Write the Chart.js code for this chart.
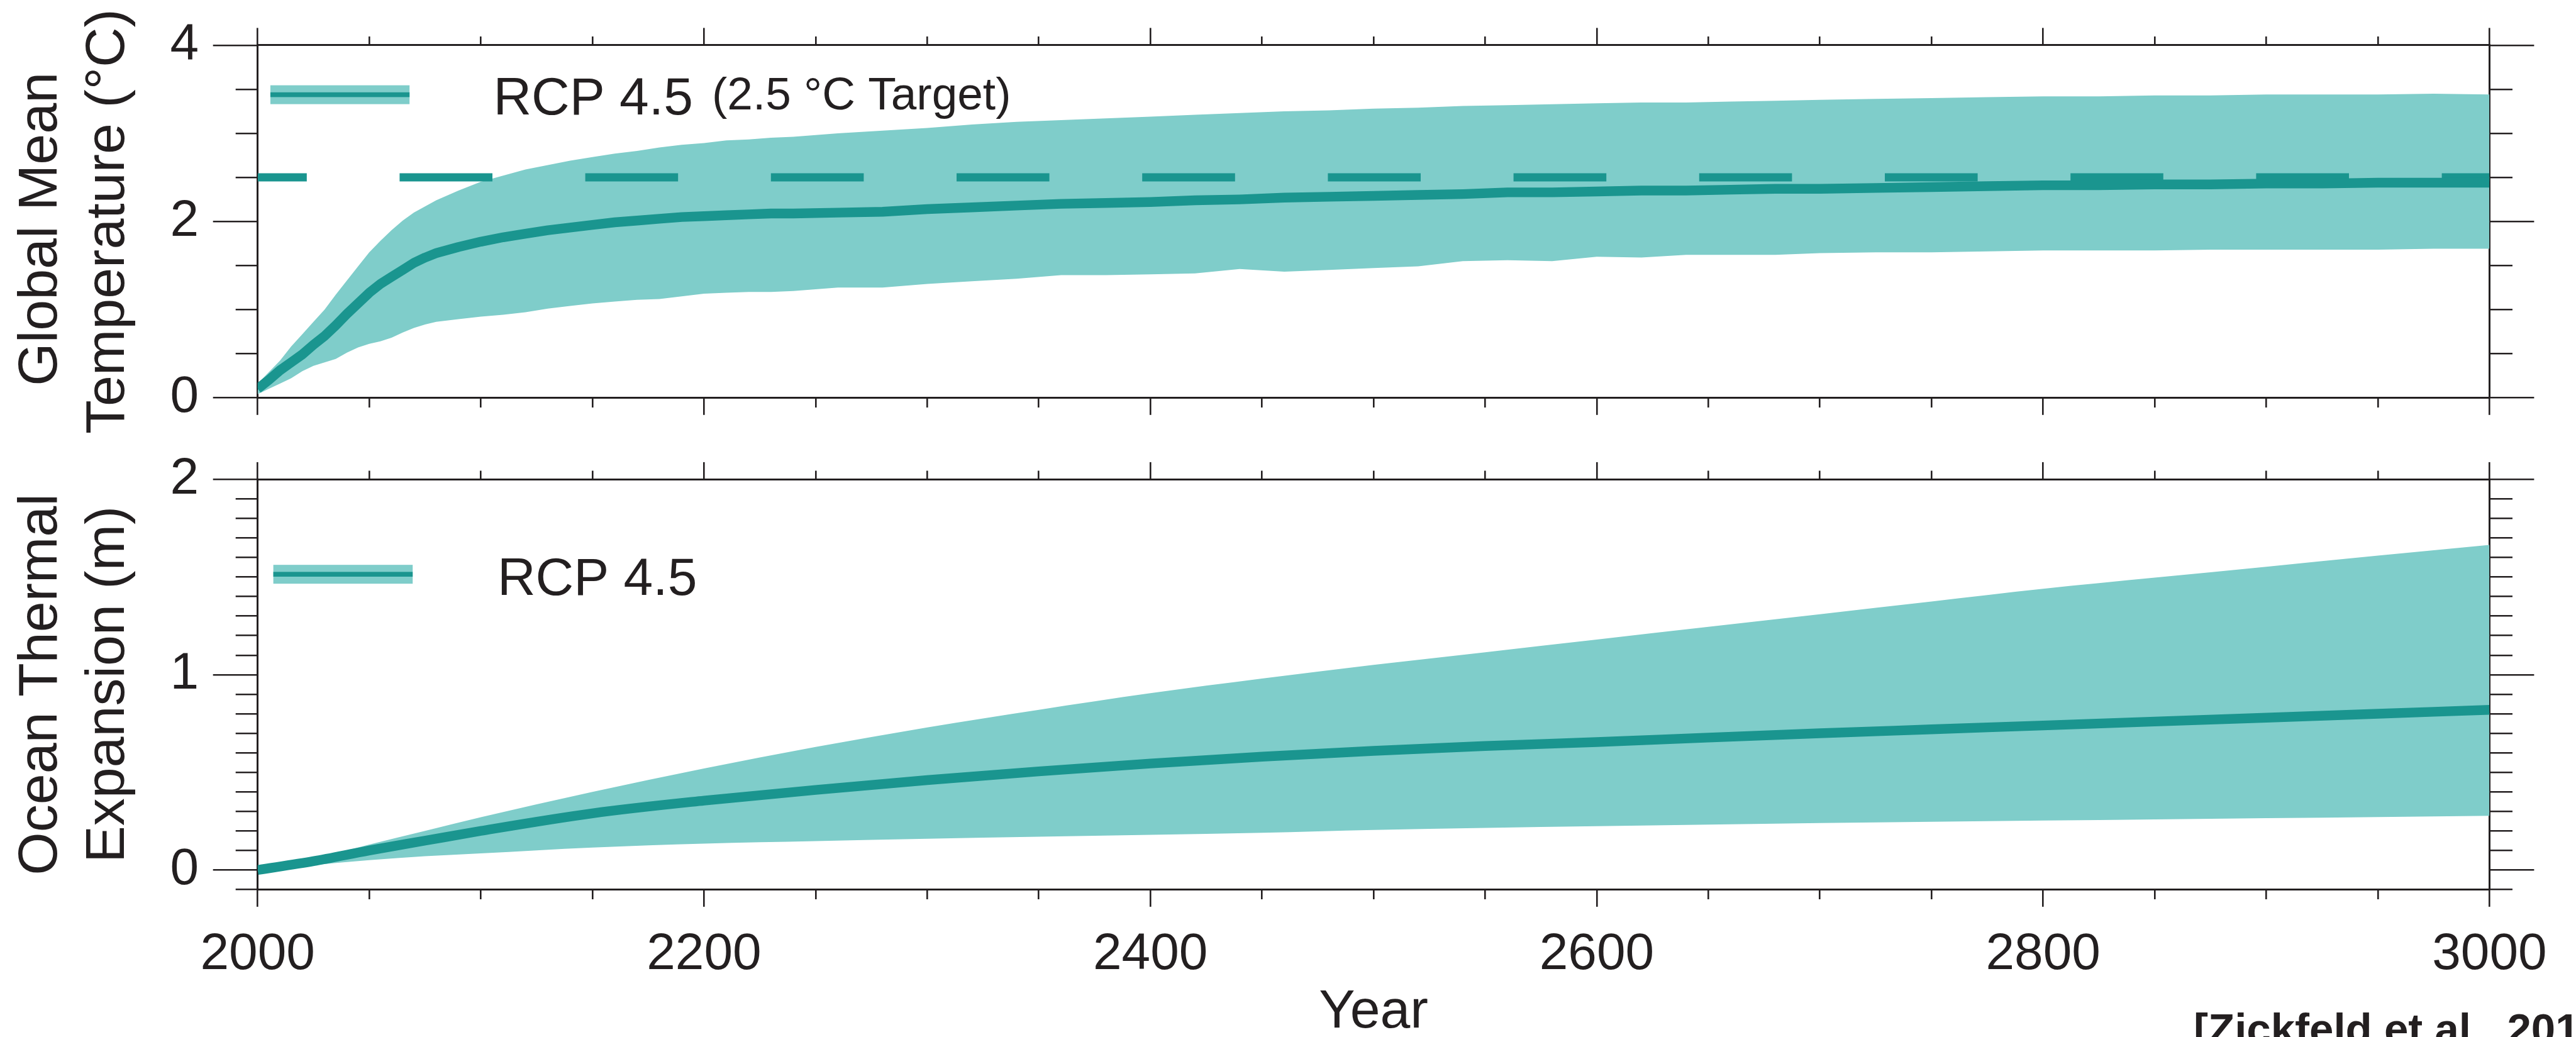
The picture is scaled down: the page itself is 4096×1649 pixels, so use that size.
<!DOCTYPE html>
<html>
<head>
<meta charset="utf-8">
<title>RCP 4.5: Global Mean Temperature and Ocean Thermal Expansion</title>
<script src="https://cdn.jsdelivr.net/npm/chart.js@4.4.1/dist/chart.umd.min.js"></script>
<style>
  html, body { margin: 0; padding: 0; background: #fff; overflow: hidden; }
  canvas { position: absolute; left: 0; top: 0; }
</style>
</head>
<body>
<canvas id="temp" width="4096" height="1649"></canvas>
<canvas id="ocean" width="4096" height="1649"></canvas>
<script>
// Global mean temperature change (°C), RCP 4.5 with the 2.5 °C target
const tempYears = [
  2000, 2005, 2010, 2015, 2020, 2025, 2030, 2035, 2040, 2045, 2050, 2055, 2060, 2065, 2070, 2075, 2080,
  2090, 2100, 2110, 2120, 2130, 2140, 2150, 2160, 2170, 2180, 2190, 2200, 2210, 2220, 2230, 2240,
  2260, 2280, 2300, 2320, 2340, 2360, 2380, 2400, 2420, 2440, 2460, 2480, 2500, 2520, 2540, 2560, 2580, 2600, 2620, 2640, 2660, 2680, 2700,
  2725, 2750, 2775, 2800, 2825, 2850, 2875, 2900, 2925, 2950, 2975, 3000
];
const tempMean = [
  0.10, 0.20, 0.31, 0.40, 0.49, 0.60, 0.70, 0.82, 0.95, 1.07, 1.19, 1.29, 1.37, 1.45, 1.53, 1.59, 1.64,
  1.71, 1.77, 1.82, 1.86, 1.90, 1.93, 1.96, 1.99, 2.01, 2.03, 2.05, 2.06, 2.07, 2.08, 2.09, 2.09,
  2.10, 2.11, 2.14, 2.16, 2.18, 2.20, 2.21, 2.22, 2.24, 2.25, 2.27, 2.28, 2.29, 2.30, 2.31, 2.33, 2.33, 2.34, 2.35, 2.35, 2.36, 2.37, 2.37,
  2.38, 2.39, 2.40, 2.41, 2.41, 2.42, 2.42, 2.43, 2.43, 2.44, 2.44, 2.44
];
const tempUpper = [
  0.16, 0.29, 0.42, 0.58, 0.72, 0.86, 1.00, 1.17, 1.33, 1.49, 1.65, 1.78, 1.90, 2.01, 2.10, 2.17, 2.24,
  2.35, 2.45, 2.52, 2.59, 2.64, 2.69, 2.73, 2.77, 2.80, 2.84, 2.87, 2.89, 2.92, 2.93, 2.95, 2.96,
  3.00, 3.03, 3.06, 3.10, 3.13, 3.15, 3.17, 3.19, 3.21, 3.23, 3.25, 3.26, 3.28, 3.29, 3.31, 3.32, 3.33, 3.34, 3.35, 3.35, 3.36, 3.37, 3.38,
  3.39, 3.40, 3.41, 3.42, 3.42, 3.43, 3.43, 3.44, 3.44, 3.44, 3.45, 3.44
];
const tempLower = [
  0.04, 0.10, 0.16, 0.22, 0.30, 0.36, 0.40, 0.44, 0.51, 0.57, 0.61, 0.64, 0.68, 0.74, 0.79, 0.83, 0.86,
  0.89, 0.92, 0.94, 0.97, 1.01, 1.04, 1.07, 1.09, 1.11, 1.12, 1.15, 1.18, 1.19, 1.20, 1.20, 1.21,
  1.25, 1.25, 1.29, 1.32, 1.35, 1.39, 1.39, 1.40, 1.41, 1.46, 1.43, 1.45, 1.47, 1.49, 1.55, 1.56, 1.55, 1.60, 1.59, 1.62, 1.62, 1.62, 1.64,
  1.65, 1.65, 1.66, 1.67, 1.67, 1.67, 1.68, 1.68, 1.68, 1.68, 1.69, 1.69
];
const targetYears = [2000, 3000];
const targetTemp = [2.5, 2.5];

// Ocean thermal expansion (m)
const oceanYears = [2000, 2025, 2050, 2075, 2100, 2150, 2200, 2250, 2300, 2350, 2400, 2450, 2500, 2550, 2600, 2650, 2700, 2750, 2800, 2850, 2900, 2950, 3000];
const oceanMean  = [0.00, 0.045, 0.10, 0.15, 0.20, 0.29, 0.355, 0.41, 0.46, 0.505, 0.545, 0.58, 0.61, 0.635, 0.655, 0.678, 0.70, 0.72, 0.74, 0.76, 0.78, 0.80, 0.82];
const oceanUpper = [0.00, 0.055, 0.13, 0.20, 0.27, 0.40, 0.52, 0.63, 0.73, 0.82, 0.905, 0.98, 1.05, 1.115, 1.18, 1.245, 1.31, 1.375, 1.44, 1.497, 1.553, 1.61, 1.665];
const oceanLower = [0.00, 0.025, 0.05, 0.07, 0.085, 0.115, 0.135, 0.148, 0.16, 0.17, 0.18, 0.19, 0.205, 0.215, 0.224, 0.232, 0.24, 0.247, 0.253, 0.259, 0.265, 0.271, 0.277];

// labelled (long) ticks
const yearLabels = [2000, 2200, 2400, 2600, 2800, 3000];
const tempLabels = [0, 2, 4];
const oceanLabels = [0, 1, 2];

const INK = '#231f20';
const BAND = '#7fcdca';
const LINE = '#1a958f';
const FONT = "'Liberation Sans', Arial, Helvetica, sans-serif";

const W = 4096, H = 1649;
const LEFT = 409.7, RIGHT = 3958.4;
const TOP1 = 61.3, BOT1 = 632.3;     // temperature panel
const TOP2 = 762.4, BOT2 = 1414.4;   // expansion panel

const pts = (xs, ys) => xs.map((x, i) => ({ x, y: ys[i] }));
const near = (list, v) => list.some(l => Math.abs(l - v) < 1e-6);

// One framed axis; minor ticks are the outer part of the long tick blanked by a dash
function axis(position, min, max, step, majors, majorLen, minorLen, size, extra) {
  const vertical = position === 'left' || position === 'right';
  const fromOuter = position === 'left' || position === 'top';
  const cfg = {
    type: 'linear',
    axis: vertical ? 'y' : 'x',
    position, min, max,
    border: { display: true, color: INK, width: 3 },
    grid: {
      drawOnChartArea: false,
      drawTicks: true,
      lineWidth: 2.6,
      tickLength: majorLen,
      tickWidth: 2.6,
      tickColor: INK,
      tickBorderDash: c => (c.tick && near(majors, c.tick.value)) ? [] :
        (fromOuter ? [0, majorLen - minorLen, 1000, 0] : [minorLen, 1000])
    },
    ticks: {
      display: false,
      stepSize: step,
      maxTicksLimit: 1000,
      autoSkip: false,
      maxRotation: 0,
      minRotation: 0
    },
    afterFit: s => { if (vertical) s.width = size; else s.height = size; }
  };
  if (extra && extra.labels) {
    Object.assign(cfg.ticks, {
      display: true,
      padding: extra.padding,
      color: INK,
      font: { family: FONT, size: 82 },
      callback: v => near(majors, v) ? String(Math.round(v)) : ''
    });
  }
  if (extra && extra.title) cfg.title = extra.title;
  return cfg;
}

function yTitle(lines) {
  return {
    display: true,
    text: lines,
    color: INK,
    font: { family: FONT, size: 88, lineHeight: 1.216 },
    padding: { top: 12, bottom: 0 }
  };
}

// legend swatch (band + mean line) and free text
function overlay(id, sw, texts) {
  return {
    id,
    afterDraw(chart) {
      const ctx = chart.ctx;
      ctx.save();
      ctx.fillStyle = BAND;
      ctx.fillRect(sw.x0, sw.y - 15, sw.x1 - sw.x0, 30);
      ctx.fillStyle = LINE;
      ctx.fillRect(sw.x0, sw.y - 3.8, sw.x1 - sw.x0, 7.6);
      ctx.fillStyle = INK;
      ctx.textBaseline = 'alphabetic';
      ctx.textAlign = 'left';
      texts.forEach(t => {
        ctx.font = (t.bold ? 'bold ' : '') + t.size + 'px ' + FONT;
        ctx.fillText(t.text, t.x, t.y);
      });
      ctx.restore();
    }
  };
}

const common = {
  responsive: false,
  maintainAspectRatio: false,
  devicePixelRatio: 1,
  animation: false,
  events: [],
  elements: {
    point: { radius: 0 },
    line: { borderCapStyle: 'butt', borderJoinStyle: 'round' }
  },
  plugins: { legend: { display: false }, tooltip: { enabled: false } }
};

const noStroke = 'rgba(0,0,0,0)';

// Upper panel: temperature
new Chart(document.getElementById('temp'), {
  type: 'line',
  data: {
    datasets: [
      { data: pts(tempYears, tempMean), borderColor: LINE, borderWidth: 15.4, fill: false, tension: 0 },
      { data: pts(targetYears, targetTemp), borderColor: LINE, borderWidth: 12.9,
        borderDash: [147.6, 147.6], borderDashOffset: 69.5, fill: false },
      { data: pts(tempYears, tempUpper), borderColor: noStroke, borderWidth: 0, backgroundColor: BAND, fill: '+1', tension: 0 },
      { data: pts(tempYears, tempLower), borderColor: noStroke, borderWidth: 0, fill: false, tension: 0 }
    ]
  },
  options: Object.assign({}, common, {
    layout: { padding: { top: 0, left: 0, right: 0, bottom: H - BOT1 - 60 } },
    scales: {
      x: axis('bottom', 2000, 3000, 50, yearLabels, 27.5, 14, 60),
      x2: axis('top', 2000, 3000, 50, yearLabels, 27.5, 14, TOP1),
      y: axis('left', 0, 4, 0.5, tempLabels, 71, 35, LEFT,
        { labels: true, padding: 22.7, title: yTitle(['Global Mean ', 'Temperature (°C)']) }),
      y2: axis('right', 0, 4, 0.5, tempLabels, 71, 35, W - RIGHT)
    }
  }),
  plugins: [overlay('tempLegend', { x0: 429.9, x1: 651.2, y: 150.6 }, [
    { text: 'RCP 4.5', x: 784.4, y: 182.2, size: 84 },
    { text: '(2.5 °C Target)', x: 1132, y: 174.4, size: 73 }
  ])]
});

// Lower panel: ocean thermal expansion
new Chart(document.getElementById('ocean'), {
  type: 'line',
  data: {
    datasets: [
      { data: pts(oceanYears, oceanMean), borderColor: LINE, borderWidth: 15.4, fill: false, cubicInterpolationMode: 'monotone' },
      { data: pts(oceanYears, oceanUpper), borderColor: noStroke, borderWidth: 0, backgroundColor: BAND, fill: '+1', cubicInterpolationMode: 'monotone' },
      { data: pts(oceanYears, oceanLower), borderColor: noStroke, borderWidth: 0, fill: false, cubicInterpolationMode: 'monotone' }
    ]
  },
  options: Object.assign({}, common, {
    layout: { padding: { top: 700, left: 0, right: 0, bottom: 0 } },
    scales: {
      x: axis('bottom', 2000, 3000, 50, yearLabels, 27.5, 14, H - BOT2, {
        labels: true, padding: 27.6,
        title: { display: true, text: 'Year', color: INK,
                 font: { family: FONT, size: 86, lineHeight: 0.8 }, padding: { top: 0, bottom: 3.9 } }
      }),
      x2: axis('top', 2000, 3000, 50, yearLabels, 27.5, 14, TOP2 - 700),
      y: axis('left', -0.1, 2, 0.1, oceanLabels, 71, 35, LEFT,
        { labels: true, padding: 22.7, title: yTitle(['Ocean Thermal', 'Expansion (m)']) }),
      y2: axis('right', -0.1, 2, 0.1, oceanLabels, 71, 35, W - RIGHT)
    }
  }),
  plugins: [overlay('oceanLegend', { x0: 434.6, x1: 656.2, y: 913.2 }, [
    { text: 'RCP 4.5', x: 790.9, y: 945.5, size: 84 },
    { text: '[Zickfeld et al., 2013]', x: 3488, y: 1659.9, size: 69, bold: true }
  ])]
});
</script>
</body>
</html>
